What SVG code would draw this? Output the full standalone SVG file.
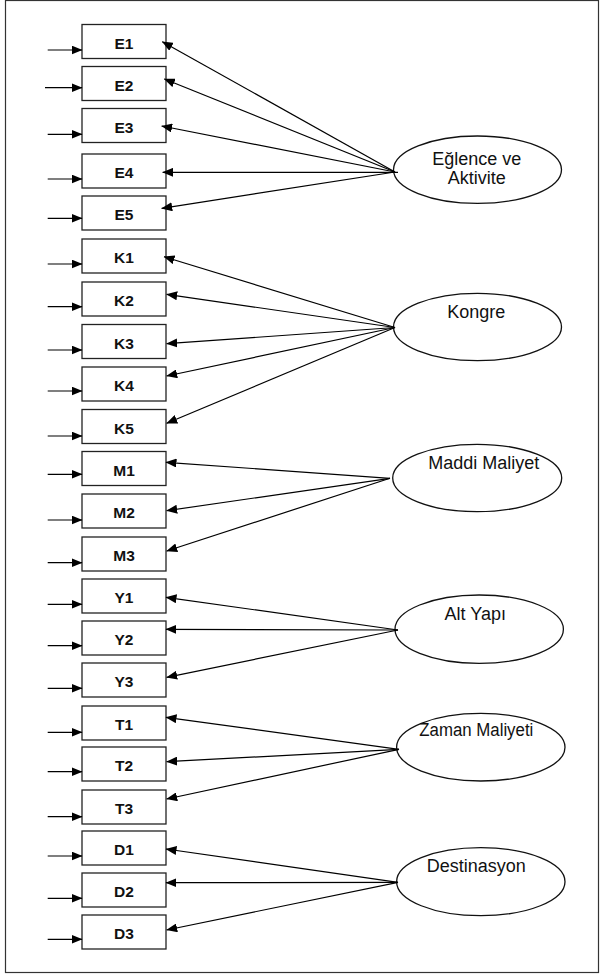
<svg xmlns="http://www.w3.org/2000/svg" width="600" height="976" viewBox="0 0 600 976">
<style>
.frame{fill:#fff;stroke:#333;stroke-width:1.2}
.box{fill:#fff;stroke:#222;stroke-width:1.3}
.lbl{font-family:"Liberation Sans",Arial,sans-serif;font-weight:bold;font-size:15.5px;fill:#111;text-anchor:middle}
.ell{fill:#fff;stroke:#111;stroke-width:1.3}
.etxt{font-family:"Liberation Sans",Arial,sans-serif;font-size:18px;fill:#111;text-anchor:middle}
.c{stroke:#000;stroke-width:1.2;fill:none;marker-end:url(#ah)}
</style>
<defs>
<marker id="ah" markerWidth="11" markerHeight="9" refX="10.5" refY="4.5" orient="auto" markerUnits="userSpaceOnUse">
<path d="M0,0 L11,4.5 L0,9 Z" fill="#000"/>
</marker>
</defs>
<rect class="frame" x="5.5" y="0.5" width="593" height="972"/>

<g id="E1"><rect class="box" x="82" y="24.5" width="84" height="34"/><text class="lbl" x="124" y="48.5">E1</text></g>
<g id="E2"><rect class="box" x="82" y="66.5" width="84" height="34"/><text class="lbl" x="124" y="90.5">E2</text></g>
<g id="E3"><rect class="box" x="82" y="108.5" width="84" height="34"/><text class="lbl" x="124" y="132.5">E3</text></g>
<g id="E4"><rect class="box" x="82" y="154" width="84" height="34"/><text class="lbl" x="124" y="178">E4</text></g>
<g id="E5"><rect class="box" x="82" y="196" width="84" height="34"/><text class="lbl" x="124" y="220">E5</text></g>
<g id="K1"><rect class="box" x="82" y="239" width="84" height="34"/><text class="lbl" x="124" y="263">K1</text></g>
<g id="K2"><rect class="box" x="82" y="282" width="84" height="34"/><text class="lbl" x="124" y="306">K2</text></g>
<g id="K3"><rect class="box" x="82" y="324.5" width="84" height="34"/><text class="lbl" x="124" y="348.5">K3</text></g>
<g id="K4"><rect class="box" x="82" y="367" width="84" height="34"/><text class="lbl" x="124" y="391">K4</text></g>
<g id="K5"><rect class="box" x="82" y="409.5" width="84" height="34"/><text class="lbl" x="124" y="433.5">K5</text></g>
<g id="M1"><rect class="box" x="82" y="451.5" width="84" height="34"/><text class="lbl" x="124" y="475.5">M1</text></g>
<g id="M2"><rect class="box" x="82" y="494" width="84" height="34"/><text class="lbl" x="124" y="518">M2</text></g>
<g id="M3"><rect class="box" x="82" y="537" width="84" height="34"/><text class="lbl" x="124" y="561">M3</text></g>
<g id="Y1"><rect class="box" x="82" y="579" width="84" height="34"/><text class="lbl" x="124" y="603">Y1</text></g>
<g id="Y2"><rect class="box" x="82" y="621" width="84" height="34"/><text class="lbl" x="124" y="645">Y2</text></g>
<g id="Y3"><rect class="box" x="82" y="663" width="84" height="34"/><text class="lbl" x="124" y="687">Y3</text></g>
<g id="T1"><rect class="box" x="82" y="706" width="84" height="34"/><text class="lbl" x="124" y="730">T1</text></g>
<g id="T2"><rect class="box" x="82" y="747" width="84" height="34"/><text class="lbl" x="124" y="771">T2</text></g>
<g id="T3"><rect class="box" x="82" y="790" width="84" height="34"/><text class="lbl" x="124" y="814">T3</text></g>
<g id="D1"><rect class="box" x="82" y="831" width="84" height="34"/><text class="lbl" x="124" y="855">D1</text></g>
<g id="D2"><rect class="box" x="82" y="873" width="84" height="34"/><text class="lbl" x="124" y="897">D2</text></g>
<g id="D3"><rect class="box" x="82" y="915" width="84" height="34"/><text class="lbl" x="124" y="939">D3</text></g>

<g id="F1"><ellipse class="ell" cx="477.5" cy="169.7" rx="84" ry="33.7"/><text class="etxt" x="476.7" y="165" font-size="16">Eğlence ve</text><text class="etxt" x="476.7" y="183.5" font-size="16">Aktivite</text></g>
<g id="F2"><ellipse class="ell" cx="477.5" cy="327" rx="84" ry="33.7"/><text class="etxt" x="476.3" y="318.3">Kongre</text></g>
<g id="F3"><ellipse class="ell" cx="477.2" cy="478" rx="84.5" ry="33.7"/><text class="etxt" x="483.7" y="469.3">Maddi Maliyet</text></g>
<g id="F4"><ellipse class="ell" cx="479.2" cy="629.2" rx="84.2" ry="34.2"/><text class="etxt" x="475.3" y="620">Alt Yapı</text></g>
<g id="F5"><ellipse class="ell" cx="480.8" cy="747.2" rx="84.2" ry="33.8"/><text class="etxt" x="476.3" y="736" textLength="114" lengthAdjust="spacingAndGlyphs">Zaman Maliyeti</text></g>
<g id="F6"><ellipse class="ell" cx="480.8" cy="881.7" rx="84.2" ry="34"/><text class="etxt" x="476.3" y="871.7">Destinasyon</text></g>

<g id="connectors">
<line class="c" x1="47.7" y1="50" x2="82" y2="50"/>
<line class="c" x1="45" y1="87.7" x2="82" y2="87.7"/>
<line class="c" x1="47.7" y1="134.3" x2="82" y2="134.3"/>
<line class="c" x1="47.7" y1="179" x2="82" y2="179"/>
<line class="c" x1="47.7" y1="218.3" x2="82" y2="218.3"/>
<line class="c" x1="47.7" y1="264" x2="82" y2="264"/>
<line class="c" x1="47.7" y1="306.7" x2="82" y2="306.7"/>
<line class="c" x1="47.7" y1="350" x2="82" y2="350"/>
<line class="c" x1="47.7" y1="391" x2="82" y2="391"/>
<line class="c" x1="47.7" y1="436" x2="82" y2="436"/>
<line class="c" x1="47.7" y1="474.3" x2="82" y2="474.3"/>
<line class="c" x1="47.7" y1="520" x2="82" y2="520"/>
<line class="c" x1="47.7" y1="562.7" x2="82" y2="562.7"/>
<line class="c" x1="47.7" y1="604.3" x2="82" y2="604.3"/>
<line class="c" x1="47.7" y1="645.7" x2="82" y2="645.7"/>
<line class="c" x1="47.7" y1="688.3" x2="82" y2="688.3"/>
<line class="c" x1="47.7" y1="732.3" x2="82" y2="732.3"/>
<line class="c" x1="47.7" y1="771.7" x2="82" y2="771.7"/>
<line class="c" x1="47.7" y1="816.7" x2="82" y2="816.7"/>
<line class="c" x1="47.7" y1="856" x2="82" y2="856"/>
<line class="c" x1="47.7" y1="898.3" x2="82" y2="898.3"/>
<line class="c" x1="47.7" y1="939.3" x2="82" y2="939.3"/>

<line class="c" x1="395" y1="172" x2="162.3" y2="41.7"/>
<line class="c" x1="395" y1="172" x2="164.3" y2="79"/>
<line class="c" x1="395" y1="172" x2="161.7" y2="126"/>
<line class="c" x1="398" y1="172.3" x2="162.7" y2="172.3"/>
<line class="c" x1="395" y1="172" x2="161.7" y2="208.3"/>

<line class="c" x1="395" y1="327.5" x2="164" y2="256.7"/>
<line class="c" x1="395" y1="327.5" x2="166.7" y2="294.3"/>
<line class="c" x1="395" y1="327.5" x2="166.7" y2="343.7"/>
<line class="c" x1="395" y1="327.5" x2="166.7" y2="376"/>
<line class="c" x1="395" y1="327.5" x2="166.7" y2="423.3"/>

<line class="c" x1="390" y1="478.3" x2="166" y2="462.3"/>
<line class="c" x1="390" y1="478.3" x2="166.7" y2="510.7"/>
<line class="c" x1="390" y1="478.3" x2="166.7" y2="551"/>

<line class="c" x1="398" y1="630" x2="166" y2="597.3"/>
<line class="c" x1="398" y1="630" x2="166" y2="629.3"/>
<line class="c" x1="398" y1="630" x2="166.7" y2="677.3"/>

<line class="c" x1="399" y1="749.3" x2="166" y2="717.3"/>
<line class="c" x1="399" y1="749.3" x2="166.7" y2="761.7"/>
<line class="c" x1="399" y1="749.3" x2="166.7" y2="799"/>

<line class="c" x1="398" y1="882.3" x2="166" y2="849"/>
<line class="c" x1="398" y1="882.3" x2="166" y2="882.7"/>
<line class="c" x1="398" y1="882.3" x2="166.7" y2="930"/>
</g>
</svg>
